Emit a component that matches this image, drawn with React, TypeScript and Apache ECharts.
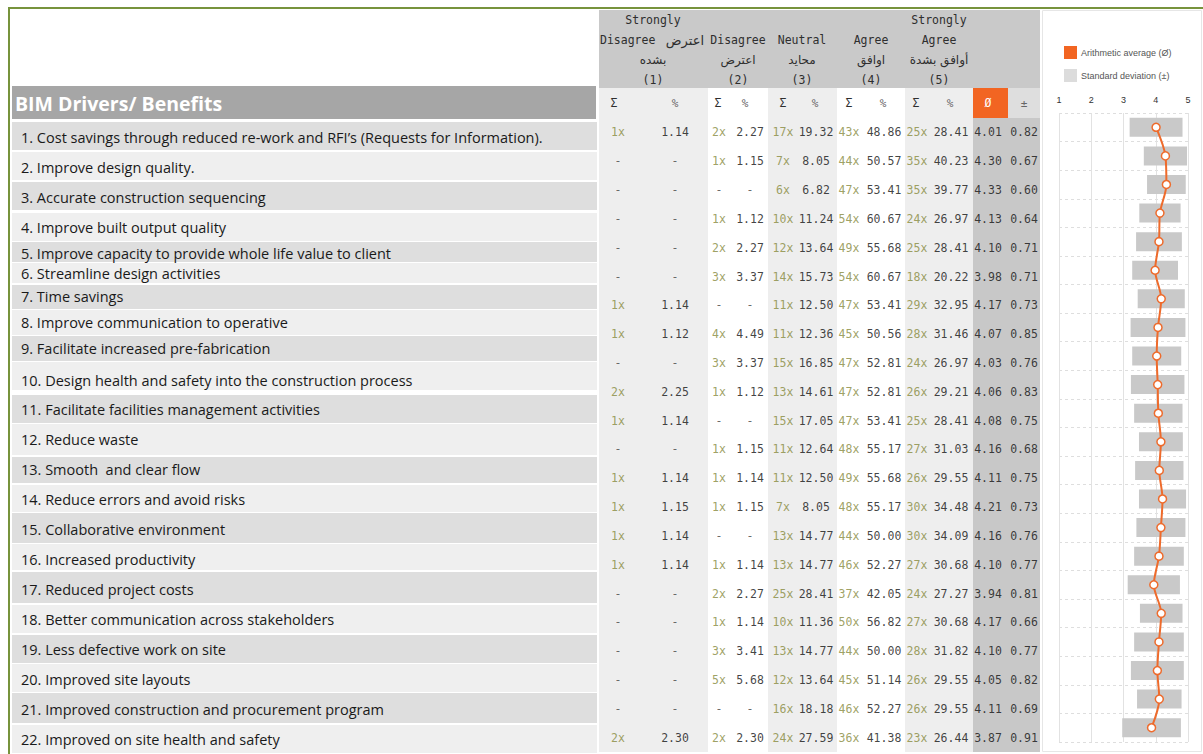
import { useEffect, useRef } from "react";
import * as echarts from "echarts";

// ---- data ----
const benefits = [
  "1. Cost savings through reduced re-work and RFI\u2019s (Requests for Information).",
  "2. Improve design quality.",
  "3. Accurate construction sequencing",
  "4. Improve built output quality",
  "5. Improve capacity to provide whole life value to client",
  "6. Streamline design activities",
  "7. Time savings",
  "8. Improve communication to operative",
  "9. Facilitate increased pre-fabrication",
  "10. Design health and safety into the construction process",
  "11. Facilitate facilities management activities",
  "12. Reduce waste",
  "13. Smooth  and clear flow",
  "14. Reduce errors and avoid risks",
  "15. Collaborative environment",
  "16. Increased productivity",
  "17. Reduced project costs",
  "18. Better communication across stakeholders",
  "19. Less defective work on site",
  "20. Improved site layouts",
  "21. Improved construction and procurement program",
  "22. Improved on site health and safety",
];

const countSD = [1, null, null, null, null, null, 1, 1, null, 2, 1, null, 1, 1, 1, 1, null, null, null, null, null, 2];
const pctSD = [1.14, null, null, null, null, null, 1.14, 1.12, null, 2.25, 1.14, null, 1.14, 1.15, 1.14, 1.14, null, null, null, null, null, 2.3];
const countD = [2, 1, null, 1, 2, 3, null, 4, 3, 1, null, 1, 1, 1, null, 1, 2, 1, 3, 5, null, 2];
const pctD = [2.27, 1.15, null, 1.12, 2.27, 3.37, null, 4.49, 3.37, 1.12, null, 1.15, 1.14, 1.15, null, 1.14, 2.27, 1.14, 3.41, 5.68, null, 2.3];
const countN = [17, 7, 6, 10, 12, 14, 11, 11, 15, 13, 15, 11, 11, 7, 13, 13, 25, 10, 13, 12, 16, 24];
const pctN = [19.32, 8.05, 6.82, 11.24, 13.64, 15.73, 12.5, 12.36, 16.85, 14.61, 17.05, 12.64, 12.5, 8.05, 14.77, 14.77, 28.41, 11.36, 14.77, 13.64, 18.18, 27.59];
const countA = [43, 44, 47, 54, 49, 54, 47, 45, 47, 47, 47, 48, 49, 48, 44, 46, 37, 50, 44, 45, 46, 36];
const pctA = [48.86, 50.57, 53.41, 60.67, 55.68, 60.67, 53.41, 50.56, 52.81, 52.81, 53.41, 55.17, 55.68, 55.17, 50.0, 52.27, 42.05, 56.82, 50.0, 51.14, 52.27, 41.38];
const countSA = [25, 35, 35, 24, 25, 18, 29, 28, 24, 26, 25, 27, 26, 30, 30, 27, 24, 27, 28, 26, 26, 23];
const pctSA = [28.41, 40.23, 39.77, 26.97, 28.41, 20.22, 32.95, 31.46, 26.97, 29.21, 28.41, 31.03, 29.55, 34.48, 34.09, 30.68, 27.27, 30.68, 31.82, 29.55, 29.55, 26.44];
const means = [4.01, 4.3, 4.33, 4.13, 4.1, 3.98, 4.17, 4.07, 4.03, 4.06, 4.08, 4.16, 4.11, 4.21, 4.16, 4.1, 3.94, 4.17, 4.1, 4.05, 4.11, 3.87];
const sds = [0.82, 0.67, 0.6, 0.64, 0.71, 0.71, 0.73, 0.85, 0.76, 0.83, 0.75, 0.68, 0.75, 0.73, 0.76, 0.77, 0.81, 0.66, 0.77, 0.82, 0.69, 0.91];

const scaleMin = 1;
const scaleMax = 5;

const legendMean = "Arithmetic average (\u00d8)";
const legendSd = "Standard deviation (\u00b1)";

const headerTitle = "BIM Drivers/ Benefits";
// each header line: [latin part, arabic part]
const columnHeaders: [string, string][][] = [
  [["Strongly", ""], ["Disagree", "\u0627\u0639\u062a\u0631\u0636"], ["", "\u0628\u0634\u062f\u0647"], ["(1)", ""]],
  [["", ""], ["Disagree", ""], ["", "\u0627\u0639\u062a\u0631\u0636"], ["(2)", ""]],
  [["", ""], ["Neutral", ""], ["", "\u0645\u062d\u0627\u064a\u062f"], ["(3)", ""]],
  [["", ""], ["Agree", ""], ["", "\u0627\u0648\u0627\u0641\u0642"], ["(4)", ""]],
  [["Strongly", ""], ["Agree", ""], ["", "\u0623\u0648\u0627\u0641\u0642 \u0628\u0634\u062f\u0629"], ["(5)", ""]],
];

// ---- layout ----
const W = 1203;
const H = 754;
const GREEN = "#77933c";
const ORANGE = "#f26522";
const LINE_ORANGE = "#ee6b2c";
const OLIVE = "#86893b";
const TABLE_FONT = '"DejaVu Sans Mono", "DejaVu Sans", monospace';
const ARABIC_FONT = '"DejaVu Sans", "Noto Sans", sans-serif';
const SANS = '"Open Sans", "Noto Sans", sans-serif';

// left label table: row boxes (top, bottom) and text centre lines
const labelRowTop = [122, 152, 182, 213, 242, 263, 285, 310, 336, 362, 395, 424, 457, 485, 513, 544, 572, 605, 635, 664, 693, 725];
const labelRowBottom = [150, 180, 210, 241, 262, 283, 309, 335, 361, 390, 423, 455, 483, 512, 543, 570, 603, 633, 663, 692, 723, 753];
const labelTextY = [137, 167, 197, 227, 253, 273, 296, 322, 348, 380, 409, 439, 469, 499, 529, 559, 589, 619, 649, 679, 709, 739];

// middle table
const TABLE_LEFT = 599;
const TABLE_RIGHT = 1040;
const TABLE_TOP = 118;
const TABLE_BOTTOM = 752;
const bandEdges = [599, 708, 768, 837, 905, 973];
const headerCenters = [653, 738, 802, 871, 939];
const colCenters = [618, 675, 719, 750, 783, 816, 849, 884, 917, 951, 988, 1024];
const subHeaderX = [614, 675, 718, 745, 783, 815, 849, 883, 916, 950];

const fmtCount = (v: number | null) => (v == null ? "-" : `${v}x`);
const fmtPct = (v: number | null) => (v == null ? "-" : v.toFixed(2));

const tableColumns: { texts: string[]; kind: "count" | "value" }[] = [
  { texts: countSD.map(fmtCount), kind: "count" },
  { texts: pctSD.map(fmtPct), kind: "value" },
  { texts: countD.map(fmtCount), kind: "count" },
  { texts: pctD.map(fmtPct), kind: "value" },
  { texts: countN.map(fmtCount), kind: "count" },
  { texts: pctN.map(fmtPct), kind: "value" },
  { texts: countA.map(fmtCount), kind: "count" },
  { texts: pctA.map(fmtPct), kind: "value" },
  { texts: countSA.map(fmtCount), kind: "count" },
  { texts: pctSA.map(fmtPct), kind: "value" },
  { texts: means.map((v) => v.toFixed(2)), kind: "value" },
  { texts: sds.map((v) => v.toFixed(2)), kind: "value" },
];

function txt(x: number, y: number, text: string, font: string, fill: string, align = "center") {
  return {
    type: "text",
    x,
    y,
    silent: true,
    style: { text, font, fill, align, verticalAlign: "middle", textAlign: align, textVerticalAlign: "middle" },
  };
}

function rect(x: number, y: number, w: number, h: number, fill: string, stroke?: string) {
  return {
    type: "rect",
    silent: true,
    shape: { x, y, width: w, height: h },
    style: stroke ? { fill, stroke, lineWidth: 1 } : { fill },
  };
}

function buildGraphics() {
  const g: any[] = [];
  // frame lines
  g.push(rect(8, 7, W - 8, 2, GREEN));
  g.push(rect(8, 7, 2, H - 7, GREEN));

  // left label table
  g.push(rect(12, 86, 584, 33, "#a6a6a6"));
  g.push(txt(15, 103, headerTitle, `700 19.5px ${SANS}`, "#ffffff", "left"));
  benefits.forEach((b, i) => {
    g.push(rect(12, labelRowTop[i], 585, labelRowBottom[i] - labelRowTop[i], i % 2 === 0 ? "#dedede" : "#efefef"));
    g.push(txt(21, labelTextY[i], b, `14.5px ${SANS}`, "#1a1a1a", "left"));
  });

  // middle table backgrounds
  g.push(rect(TABLE_LEFT, 10, TABLE_RIGHT - TABLE_LEFT, 78, "#c9c9c9"));
  for (let k = 0; k < 5; k++) {
    g.push(rect(bandEdges[k], 88, bandEdges[k + 1] - bandEdges[k], TABLE_BOTTOM - 88, k % 2 === 0 ? "#eeeeee" : "#ffffff"));
  }
  g.push(rect(973, 88, 35, 30, ORANGE));
  g.push(rect(1008, 88, TABLE_RIGHT - 1008, 30, "#dedede"));
  g.push(rect(973, TABLE_TOP, TABLE_RIGHT - 973, TABLE_BOTTOM - TABLE_TOP, "#c8c8c8"));

  // column headers (latin in the table face, arabic in a joining face)
  const lineY = [20, 40, 60, 80];
  columnHeaders.forEach((lines, k) => {
    lines.forEach(([latin, arabic], j) => {
      const y = lineY[j];
      if (latin && arabic) {
        g.push(txt(headerCenters[k] - 53, y, latin, `11.5px ${TABLE_FONT}`, "#2e2e2e", "left"));
        g.push(txt(headerCenters[k] + 51, y, arabic, `13px ${ARABIC_FONT}`, "#2e2e2e", "right"));
      } else if (latin) {
        g.push(txt(headerCenters[k], y, latin, `11.5px ${TABLE_FONT}`, "#2e2e2e"));
      } else if (arabic) {
        g.push(txt(headerCenters[k], y, arabic, `12px ${ARABIC_FONT}`, "#2e2e2e"));
      }
    });
  });
  for (let k = 0; k < 5; k++) {
    g.push(txt(subHeaderX[2 * k], 103, "\u03a3", `11.5px ${TABLE_FONT}`, "#2e2e2e"));
    g.push(txt(subHeaderX[2 * k + 1], 103, "%", `11px ${TABLE_FONT}`, "#666666"));
  }
  g.push(txt(988, 103, "\u00d8", `11.5px ${TABLE_FONT}`, "#ffffff"));
  g.push(txt(1024, 103, "\u00b1", `11px ${TABLE_FONT}`, "#666666"));

  // right panel frame
  g.push(rect(1042.5, 10.5, 159, 741, "#ffffff", "#e6e6e6"));
  return g;
}

const rowIdx = benefits.map((_, i) => i);

const tableSeries = tableColumns.map((col, c) => ({
  type: "scatter",
  xAxisIndex: 1,
  yAxisIndex: 1,
  silent: true,
  symbolSize: 1,
  itemStyle: { color: "rgba(0,0,0,0)" },
  data: rowIdx.map((i) => ({
    value: [colCenters[c] - TABLE_LEFT, i],
    label: { color: col.texts[i] === "-" ? "#444444" : col.kind === "count" ? OLIVE : "#111111" },
  })),
  label: {
    show: true,
    position: "inside",
    fontFamily: TABLE_FONT,
    fontSize: 11.5,
    formatter: (p: any) => col.texts[p.dataIndex],
  },
}));

const option: any = {
  animation: false,
  backgroundColor: "#ffffff",
  graphic: { elements: buildGraphics() },
  legend: {
    orient: "vertical",
    left: 1059,
    top: 41,
    itemWidth: 13,
    itemHeight: 13,
    itemGap: 10,
    selectedMode: false,
    textStyle: { fontSize: 9, color: "#555555", fontFamily: '"Liberation Sans", Arial, sans-serif', padding: [0, 0, 0, -1] },
    data: [
      { name: legendMean, icon: "rect", itemStyle: { color: ORANGE, borderWidth: 0 } },
      { name: legendSd, icon: "rect", itemStyle: { color: "#dcdcdc", borderWidth: 0 } },
    ],
  },
  grid: [
    { left: 1059, top: 113, width: 129, height: 629 },
    { left: TABLE_LEFT, top: TABLE_TOP, width: TABLE_RIGHT - TABLE_LEFT, height: TABLE_BOTTOM - TABLE_TOP },
  ],
  xAxis: [
    {
      type: "value",
      gridIndex: 0,
      min: scaleMin,
      max: scaleMax,
      interval: 1,
      position: "top",
      axisLine: { show: false },
      axisTick: { show: false },
      axisLabel: { fontSize: 9, color: "#333333", margin: 9, fontFamily: '"Liberation Sans", Arial, sans-serif' },
      splitLine: { show: true, lineStyle: { color: "#e2e2e2", width: 1 } },
    },
    { type: "value", gridIndex: 1, min: 0, max: TABLE_RIGHT - TABLE_LEFT, show: false, splitLine: { show: false } },
  ],
  yAxis: [
    {
      type: "category",
      gridIndex: 0,
      data: benefits,
      inverse: true,
      axisLine: { show: false },
      axisTick: { show: false },
      axisLabel: { show: false },
      splitLine: { show: true, interval: 0, lineStyle: { color: "#dedede", type: [3, 3], width: 1 } },
    },
    { type: "category", gridIndex: 1, data: benefits, inverse: true, show: false, splitLine: { show: false } },
  ],
  series: [
    {
      type: "bar",
      name: "sd-base",
      stack: "sd",
      barWidth: 19,
      silent: true,
      itemStyle: { color: "rgba(0,0,0,0)" },
      data: means.map((m, i) => +(m - sds[i]).toFixed(2)),
    },
    {
      type: "bar",
      name: legendSd,
      stack: "sd",
      barWidth: 19,
      itemStyle: { color: "#c9c9c9" },
      data: sds.map((s) => +(2 * s).toFixed(2)),
    },
    {
      type: "line",
      name: legendMean,
      z: 5,
      smooth: 0.3,
      symbol: "circle",
      symbolSize: 8,
      lineStyle: { color: LINE_ORANGE, width: 2 },
      itemStyle: { color: "#ffffff", borderColor: LINE_ORANGE, borderWidth: 1.5 },
      data: means.map((m, i) => [m, i]),
    },
    ...tableSeries,
  ],
};

export default function App() {
  const ref = useRef<HTMLDivElement>(null);
  useEffect(() => {
    const chart = echarts.init(ref.current!, null, { renderer: "svg" });
    chart.setOption(option);
    return () => chart.dispose();
  }, []);
  return (
    <div
      ref={ref}
      style={{ position: "absolute", left: 0, top: 0, width: W, height: H, background: "#ffffff" }}
    />
  );
}
